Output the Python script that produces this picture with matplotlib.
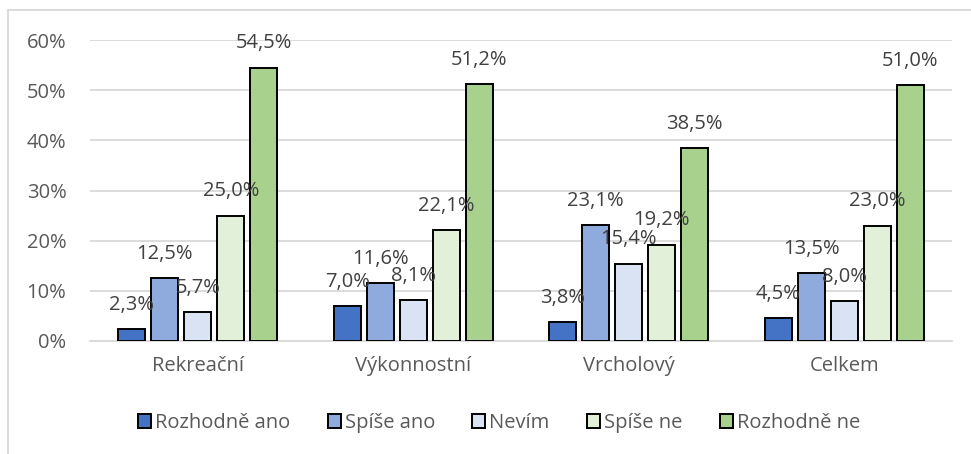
import numpy as np
import matplotlib.pyplot as plt
from matplotlib.lines import Line2D

categories = ["Rekreační", "Výkonnostní", "Vrcholový", "Celkem"]
series_names = ["Rozhodně ano", "Spíše ano", "Nevím", "Spíše ne", "Rozhodně ne"]
rozhodne_ano = [2.3, 7.0, 3.8, 4.5]
spise_ano = [12.5, 11.6, 23.1, 13.5]
nevim = [5.7, 8.1, 15.4, 8.0]
spise_ne = [25.0, 22.1, 19.2, 23.0]
rozhodne_ne = [54.5, 51.2, 38.5, 51.0]
colors = ["#4472C4", "#8FAADC", "#DAE3F3", "#E2F0D9", "#A9D18E"]

plt.rcParams['font.family'] = ['Open Sans', 'DejaVu Sans']
txt = "#595959"
fs = 14.5

fig = plt.figure(figsize=(9.71, 4.54), dpi=100)
ax = fig.add_axes([90/971, 1-341/454, 862/971, 301/454])

x = np.arange(len(categories))
pitch = 0.153
width = 0.124
data = [rozhodne_ano, spise_ano, nevim, spise_ne, rozhodne_ne]
for i, vals in enumerate(data):
    pos = x + (i - 2) * pitch
    ax.bar(pos, np.array(vals) / 100, width, color=colors[i], edgecolor="black",
           linewidth=1.4, label=series_names[i], zorder=3)
    for px, v in zip(pos, vals):
        ax.annotate(f"{v:.1f}%".replace(".", ","), (px, v / 100), xytext=(0, 17.5),
                    textcoords="offset points", ha="center", va="center",
                    fontsize=fs, color="#404040", zorder=4)

ax.set_xlim(-0.5, 3.5)
ax.set_ylim(0, 0.6)
ax.set_yticks(np.arange(0, 0.61, 0.1))
ax.set_yticklabels([f"{int(t)}%" for t in np.arange(0, 61, 10)])
ax.set_xticks(x)
ax.set_xticklabels(categories)
ax.tick_params(axis="y", length=0, pad=17, labelsize=fs, labelcolor=txt)
ax.tick_params(axis="x", length=0, pad=11, labelsize=fs, labelcolor=txt)
ax.grid(axis="y", color="#D9D9D9", linewidth=1.3, zorder=0)
for s in ["top", "right", "left"]:
    ax.spines[s].set_visible(False)
ax.spines["bottom"].set_color("#D9D9D9")
ax.spines["bottom"].set_linewidth(1.3)

handles = [plt.Rectangle((0, 0), 1, 1, facecolor=c, edgecolor="black", linewidth=1.4) for c in colors]
fig.legend(handles, series_names, loc="center", bbox_to_anchor=(499/971, 1-423/454), ncol=5,
           frameon=False, fontsize=fs, handlelength=0.65, handleheight=0.65,
           handletextpad=0.2, columnspacing=1.85, labelcolor=txt)

# chart area frame
fig.add_artist(Line2D([8/971, 8/971], [0, 1-10/454], color="#D9D9D9", linewidth=1.3))
fig.add_artist(Line2D([8/971, 1], [1-10/454, 1-10/454], color="#D9D9D9", linewidth=1.3))

fig.savefig("out.png", dpi=100)
